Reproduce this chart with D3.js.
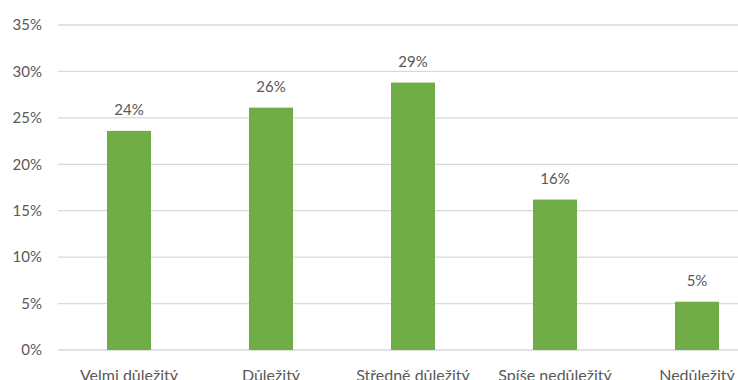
<!DOCTYPE html>
<html lang="cs">
<head>
<meta charset="UTF-8">
<title>Důležitost</title>
<style>
  body { margin: 0; background: #fff; }
  svg text { font-family: Lato, "Open Sans", sans-serif; fill: #595959; }
  .grid line { stroke: #d9d9d9; stroke-width: 1.3px; }
</style>
</head>
<body>
<div id="chart"></div>
<script src="https://d3js.org/d3.v7.min.js"></script>
<script>
const categories = ["Velmi důležitý", "Důležitý", "Středně důležitý", "Spíše nedůležitý", "Nedůležitý"];
const values = [0.236, 0.261, 0.288, 0.162, 0.052];
const labels = ["24%", "26%", "29%", "16%", "5%"];
const yTicks = [0, 0.05, 0.10, 0.15, 0.20, 0.25, 0.30, 0.35];

const W = 738, H = 380;
const svg = d3.select("#chart").append("svg")
  .attr("width", W).attr("height", H);

// plot area runs past the right edge, like the cropped original
const x = d3.scaleBand().domain(categories).range([58, 768]).paddingInner(0.69).paddingOuter(0.345);
const y = d3.scaleLinear().domain([0, 0.35]).range([350, 25]);

svg.append("g").attr("class", "grid")
  .selectAll("line").data(yTicks).join("line")
  .attr("x1", 58).attr("x2", W)
  .attr("y1", d => y(d)).attr("y2", d => y(d));

svg.append("g").selectAll("text").data(yTicks).join("text")
  .attr("x", 42).attr("y", d => y(d)).attr("dy", "0.35em")
  .attr("text-anchor", "end").style("font-size", "15px")
  .text(d3.format(".0%"));

svg.append("g").selectAll("rect").data(values).join("rect")
  .attr("x", (d, i) => x(categories[i]))
  .attr("width", x.bandwidth())
  .attr("y", d => y(d))
  .attr("height", d => y(0) - y(d))
  .attr("fill", "#70ad47");

svg.append("g").selectAll("text").data(values).join("text")
  .attr("x", (d, i) => x(categories[i]) + x.bandwidth() / 2)
  .attr("y", d => y(d) - 16)
  .attr("text-anchor", "middle").style("font-size", "15px")
  .text((d, i) => labels[i]);

svg.append("g").selectAll("text").data(categories).join("text")
  .attr("x", d => x(d) + x.bandwidth() / 2)
  .attr("y", 381)
  .attr("text-anchor", "middle").style("font-size", "16px")
  .text(d => d);
</script>
</body>
</html>
